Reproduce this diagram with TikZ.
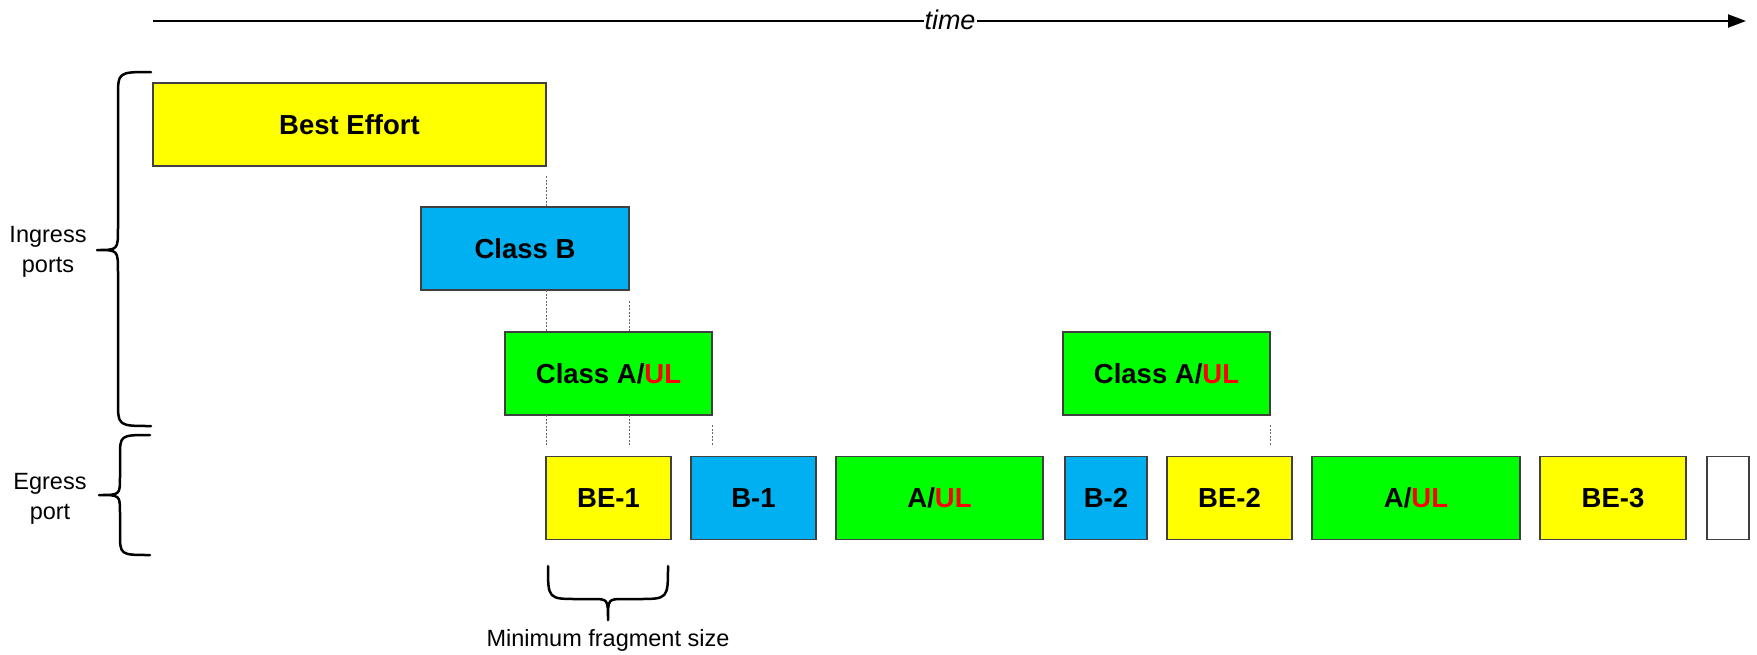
\documentclass[tikz,border=0pt]{standalone}
\usepackage{fontspec}
\setmainfont{Liberation Sans}
\usetikzlibrary{calc,arrows.meta}
\definecolor{beY}{HTML}{FFFF00}
\definecolor{clB}{HTML}{00B0F0}
\definecolor{clA}{HTML}{00FF00}
\definecolor{ulR}{HTML}{FF0000}
\begin{document}
\begin{tikzpicture}[x=1pt,y=-1pt,
  box/.style={draw=black!75, line width=1.5pt, minimum height=83pt, inner sep=0pt, outer sep=0pt,
    font=\fontsize{27.5}{32}\selectfont\bfseries, anchor=north west},
  guide/.style={draw=black!60, line width=0.8pt, dash pattern=on 2pt off 1.5pt},
  bracepath/.style={draw=black, line width=2.5pt, line cap=round, line join=round},
  lbl/.style={font=\fontsize{23.5}{30}\selectfont, align=center}]
\useasboundingbox (0,0) rectangle (1757,654);

% time axis
\coordinate (t0) at (153,21);
\coordinate (t1) at (1746,21);
\draw[line width=2pt, -{Triangle[length=18pt,width=13pt]}] (t0) -- (t1);
\node[fill=white, inner sep=1pt, font=\fontsize{27}{30}\selectfont\itshape] (time) at (950,20) {time};

% ingress frames
\node[box, fill=beY, minimum width=393pt] (be) at (153,83) {Best Effort};
\node[box, fill=clB, minimum width=208pt] (cb) at (421,207) {Class B};
\node[box, fill=clA, minimum width=207pt] (ca1) at (505,332) {Class A/\textcolor{ulR}{UL}};
\node[box, fill=clA, minimum width=207pt] (ca2) at (1063,332) {Class A/\textcolor{ulR}{UL}};

% egress fragments
\node[box, fill=beY, minimum width=125pt] (be1) at (546,456.5) {BE-1};
\node[box, fill=clB, minimum width=125pt] (b1) at (691,456.5) {B-1};
\node[box, fill=clA, minimum width=207pt] (au1) at (836,456.5) {A/\textcolor{ulR}{UL}};
\node[box, fill=clB, minimum width=82pt] (b2) at (1065,456.5) {B-2};
\node[box, fill=beY, minimum width=125pt] (be2) at (1167,456.5) {BE-2};
\node[box, fill=clA, minimum width=208pt] (au2) at (1312,456.5) {A/\textcolor{ulR}{UL}};
\node[box, fill=beY, minimum width=146pt] (be3) at (1540,456.5) {BE-3};
\node[box, fill=white, minimum width=42pt] (wh) at (1707,456.5) {};

% guide lines
\draw[guide] ($(be.south east)+(0,10)$) -- (cb.north -| be.east);
\draw[guide] (cb.south -| be.east) -- (ca1.north -| be.east);
\draw[guide] ($(cb.south east)+(0,11)$) -- (ca1.north -| cb.east);
\draw[guide] (ca1.south -| be.east) -- ($(be1.north west)+(0,-11)$);
\draw[guide] (ca1.south -| cb.east) -- ($(be1.north -| cb.east)+(0,-11)$);
\draw[guide] ($(ca1.south east)+(0,10)$) -- ($(be1.north -| ca1.east)+(0,-11)$);
\draw[guide] ($(ca2.south east)+(0,10)$) -- ($(be1.north -| ca2.east)+(0,-11)$);

% braces
\draw[bracepath] (151,72) .. controls (118,72) .. (118,97) -- (118,228)
  .. controls (118,250) .. (97,250) .. controls (118,250) .. (118,272)
  -- (118,401) .. controls (118,426) .. (151,426);
\draw[bracepath] (150,435) .. controls (120,435) .. (120,457) -- (120,477)
  .. controls (120,495) .. (99,495) .. controls (120,495) .. (120,513)
  -- (120,533) .. controls (120,555) .. (150,555);
\draw[bracepath] (548,566) .. controls (548,599) .. (578,599) -- (592,599)
  .. controls (608,599) .. (608,620) .. controls (608,599) .. (624,599)
  -- (638,599) .. controls (668,599) .. (668,566);

% labels
\node[lbl] (ing) at (48,252) {Ingress\\ports};
\node[lbl] (egr) at (50,499) {Egress\\port};
\node[lbl] (mfs) at (608,640) {Minimum fragment size};
\end{tikzpicture}
\end{document}
